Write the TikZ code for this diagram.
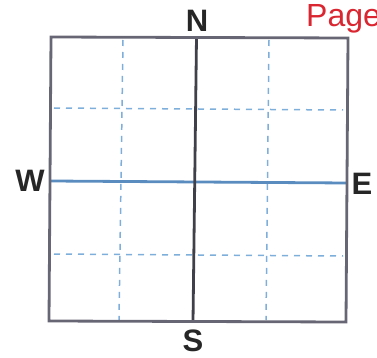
\documentclass[tikz,border=0pt]{standalone}
\usepackage{fontspec}
\setmainfont{Liberation Sans}
\definecolor{boxgray}{HTML}{666674}
\definecolor{axisdark}{HTML}{40404A}
\definecolor{axisblue}{HTML}{5B8CC0}
\definecolor{gridblue}{HTML}{7EAEDA}
\definecolor{pagered}{HTML}{D92630}
\tikzset{
  outerbox/.style={draw=boxgray, line width=2.8pt},
  nsaxis/.style={draw=axisdark, line width=2.8pt},
  weaxis/.style={draw=axisblue, line width=2.8pt},
  gridline/.style={draw=gridblue, line width=1.5pt, dash pattern=on 6pt off 6pt},
  compass/.style={font=\bfseries\fontsize{31}{31}\selectfont, text=black!85, inner sep=0pt},
}
\begin{document}
\begin{tikzpicture}[x=1pt,y=-1pt]
\useasboundingbox (0,0) rectangle (377,358);
\begin{scope}
\clip (0,0) rectangle (377,358);
% dashed grid
\draw[gridline] (123,40) -- (119,320);
\draw[gridline] (269,40) -- (266,320);
\draw[gridline] (54,108) -- (343,110);
\draw[gridline] (54,254) -- (343,256);
% axes
\draw[weaxis] (51,181) -- (347,183);
\draw[nsaxis] (196.5,37) -- (193,322);
% outer box
\draw[outerbox] (51,37) -- (348,38) -- (346,322) -- (49,321) -- cycle;
% labels
\node[compass] (n) at (197,21) {N};
\node[compass] (s) at (193,341) {S};
\node[compass] (w) at (30,181) {W};
\node[compass] (e) at (362,184) {E};
\node[anchor=base west, text=pagered, font=\fontsize{32}{32}\selectfont, inner sep=0pt] (page) at (306,27) {Page};
\end{scope}
\end{tikzpicture}
\end{document}
